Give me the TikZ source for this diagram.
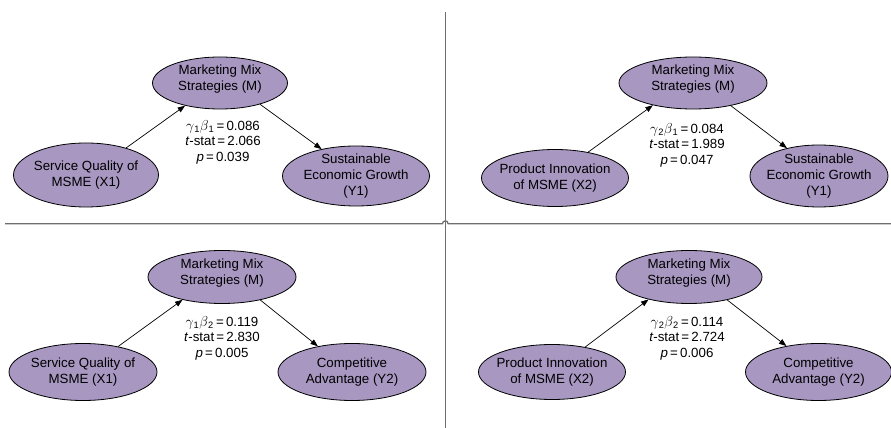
\documentclass[tikz,border=0pt]{standalone}
\usepackage{fontspec}
\setmainfont{Liberation Sans}
\usetikzlibrary{shapes.geometric,arrows.meta}
\definecolor{lav}{RGB}{167,151,193}
\definecolor{divgray}{RGB}{110,110,110}
\newcommand{\gb}[2]{$\gamma$\textsubscript{#1}$\beta$\textsubscript{#2}}
\begin{document}
\begin{tikzpicture}[x=1pt,y=1pt,
  ell/.style={ellipse,draw=black,line width=0.8pt,fill=lav,inner sep=0pt},
  lbl/.style={align=center,font=\fontsize{13.3}{16}\selectfont,inner sep=0pt},
  arr/.style={-{Triangle[length=7.5pt,width=5.5pt]},line width=0.7pt},
  stat/.style={align=center,font=\fontsize{13.3}{15.5}\selectfont,inner sep=0pt},
  divider/.style={draw=divgray,line width=1.3pt}]
\useasboundingbox (0,0) rectangle (891,428);

% dividers
\coordinate (vt) at (445.3,416);
\coordinate (vb) at (445.3,0);
\coordinate (hl) at (5,204.3);
\coordinate (hr) at (891,204.3);
\coordinate (hop) at (445.3,204.3);
\draw[divider] (vt) -- (vb);
\draw[divider] (hl) -- ([xshift=-2.8pt]hop) arc[start angle=180,end angle=0,radius=2.8pt] -- (hr);

% ---------- top left ----------
\node[ell,minimum width=135pt,minimum height=52pt] (Ma) at (220,345) {};
\node[lbl] (Mat) at ([yshift=4pt]Ma.center) {Marketing Mix\\Strategies (M)};
\node[ell,minimum width=145pt,minimum height=64pt] (Xa) at (86,253) {};
\node[lbl] (Xat) at (Xa.center) {Service Quality of\\MSME (X1)};
\node[ell,minimum width=147pt,minimum height=60pt] (Ya) at (356,252) {};
\node[lbl] (Yat) at (Ya.center) {Sustainable\\Economic Growth\\(Y1)};
\draw[arr] (Xa.34) -- (Ma.213);
\draw[arr] (Ma.332) -- (Ya.142);
\node[stat] (Sa) at (223,286) {\gb{1}{1}\,=\,0.086\\\textit{t}-stat\,=\,2.066\\\textit{p}\,=\,0.039};

% ---------- top right ----------
\node[ell,minimum width=148pt,minimum height=52pt] (Mb) at (693,345) {};
\node[lbl] (Mbt) at ([yshift=4pt]Mb.center) {Marketing Mix\\Strategies (M)};
\node[ell,minimum width=147pt,minimum height=57pt] (Xb) at (555,250) {};
\node[lbl] (Xbt) at (Xb.center) {Product Innovation\\of MSME (X2)};
\node[ell,minimum width=138pt,minimum height=62pt] (Yb) at (819,252) {};
\node[lbl] (Ybt) at (Yb.center) {Sustainable\\Economic Growth\\(Y1)};
\draw[arr] (Xb.38) -- (Mb.209);
\draw[arr] (Mb.329) -- (Yb.139);
\node[stat] (Sb) at (687,283) {\gb{2}{1}\,=\,0.084\\\textit{t}-stat\,=\,1.989\\\textit{p}\,=\,0.047};

% ---------- bottom left ----------
\node[ell,minimum width=148pt,minimum height=53pt] (Mc) at (222,151) {};
\node[lbl] (Mct) at ([yshift=4pt]Mc.center) {Marketing Mix\\Strategies (M)};
\node[ell,minimum width=148pt,minimum height=57pt] (Xc) at (83,56) {};
\node[lbl] (Xct) at (Xc.center) {Service Quality of\\MSME (X1)};
\node[ell,minimum width=148pt,minimum height=57pt] (Yc) at (352,56) {};
\node[lbl] (Yct) at (Yc.center) {Competitive\\Advantage (Y2)};
\draw[arr] (Xc.36) -- (Mc.210);
\draw[arr] (Mc.329) -- (Yc.143);
\node[stat] (Sc) at (222,90) {\gb{1}{2}\,=\,0.119\\\textit{t}-stat\,=\,2.830\\\textit{p}\,=\,0.005};

% ---------- bottom right ----------
\node[ell,minimum width=146pt,minimum height=53pt] (Md) at (689,151) {};
\node[lbl] (Mdt) at ([yshift=4pt]Md.center) {Marketing Mix\\Strategies (M)};
\node[ell,minimum width=147pt,minimum height=55pt] (Xd) at (552,56) {};
\node[lbl] (Xdt) at (Xd.center) {Product Innovation\\of MSME (X2)};
\node[ell,minimum width=146pt,minimum height=57pt] (Yd) at (818.5,56) {};
\node[lbl] (Ydt) at (Yd.center) {Competitive\\Advantage (Y2)};
\draw[arr] (Xd.37) -- (Md.209);
\draw[arr] (Md.329) -- (Yd.141);
\node[stat] (Sd) at (687,90) {\gb{2}{2}\,=\,0.114\\\textit{t}-stat\,=\,2.724\\\textit{p}\,=\,0.006};
\end{tikzpicture}
\end{document}
